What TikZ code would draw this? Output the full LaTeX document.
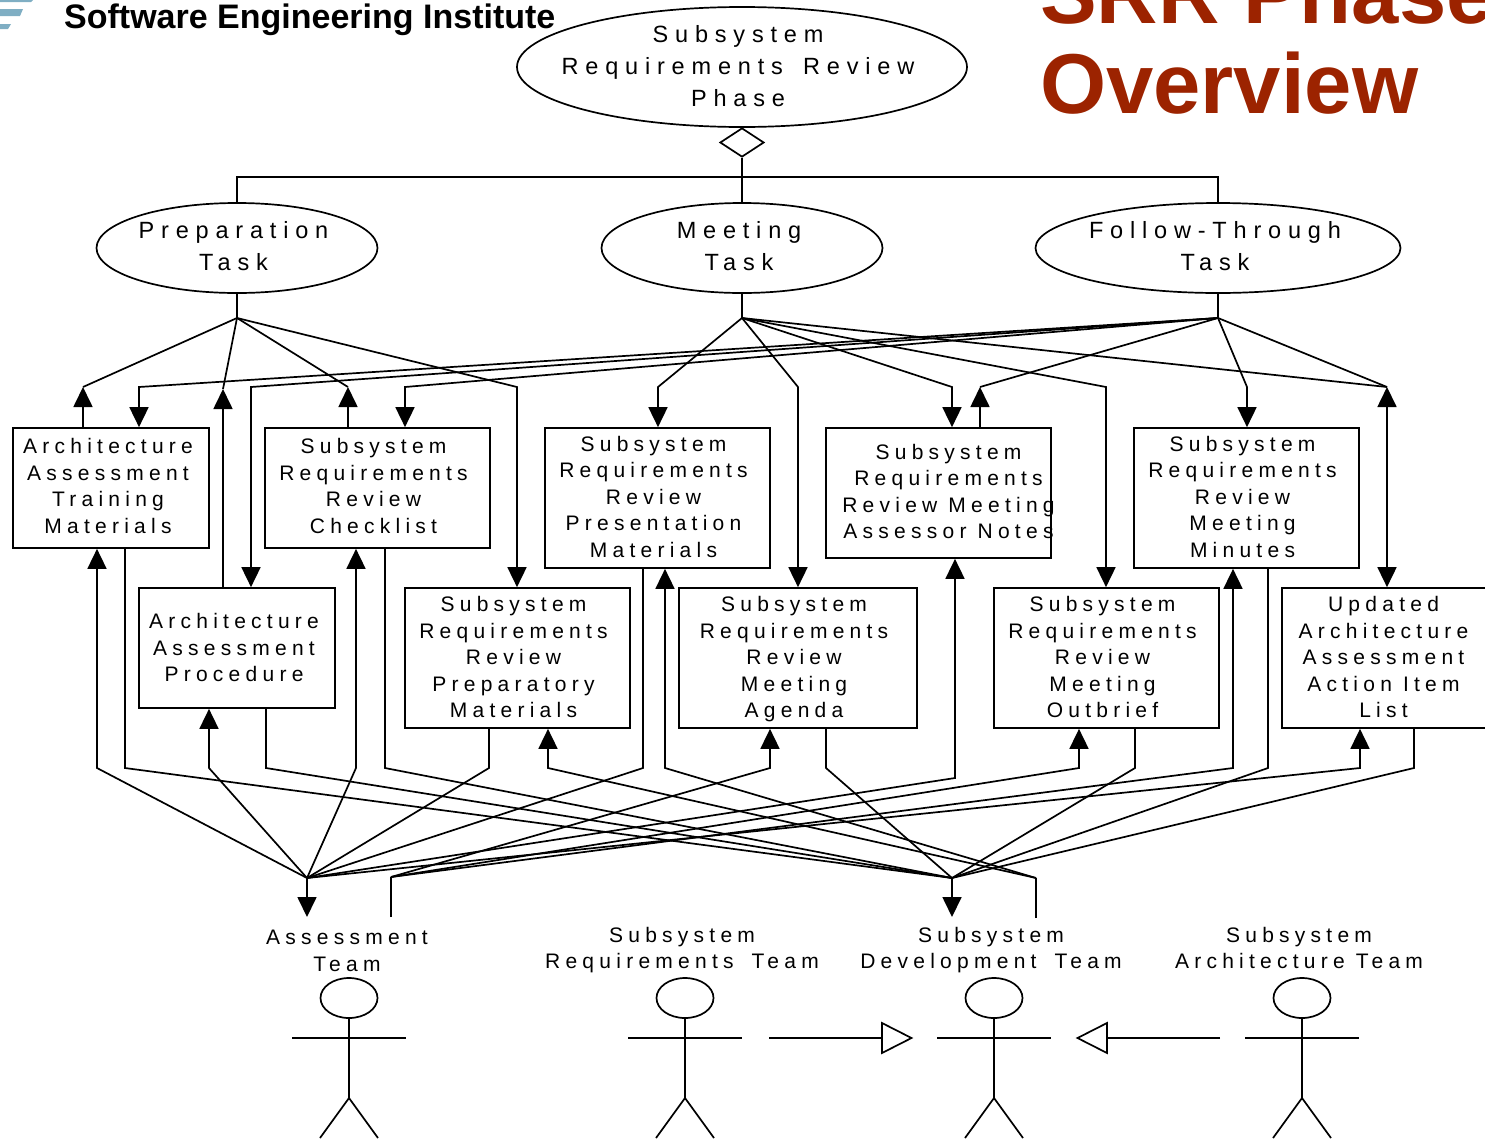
\documentclass[tikz,border=0pt]{standalone}
\usepackage{fontspec}
\usetikzlibrary{arrows.meta,shapes.geometric}
\setmainfont{Liberation Sans}
\newfontfamily\boxfont[LetterSpace=25]{Liberation Sans}
\newfontfamily\bigfont[LetterSpace=29]{Liberation Sans}
\definecolor{srrred}{HTML}{9C2300}
\definecolor{logoblue}{HTML}{7FAEC3}
% text lines placed with an offset (dx right, dy up) from the centre of their node
\newcommand\celltext[3]{\raisebox{\dimexpr #2pt-7.5pt\relax}[0pt][0pt]{\makebox[0pt]{\hspace*{#1pt}\hspace*{#1pt}\begin{tabular}{@{}c@{}}#3\end{tabular}}}}
\newcommand\wgap{\hspace{7pt}}
\tikzset{
  ln/.style={line width=1.7pt,line cap=butt},
  tip/.style={ln,-{Triangle[length=20pt,width=19pt]}},
  tiptwo/.style={ln,{Triangle[length=20pt,width=19pt]}-{Triangle[length=20pt,width=19pt]}},
  boxn/.style={draw,ln,rectangle,inner sep=0pt,fill=white,font=\fontsize{21}{26.5}\selectfont\boxfont},
  ovaln/.style={draw,ln,ellipse,inner sep=0pt,fill=white,font=\fontsize{23.5}{32}\selectfont\bigfont},
  teamlab/.style={inner sep=0pt,font=\fontsize{21}{26.5}\selectfont\boxfont},
  headn/.style={draw,ln,ellipse,minimum width=57pt,minimum height=40pt,inner sep=0pt},
  hollow/.style={draw,ln,fill=white}
}
\begin{document}
\begin{tikzpicture}[x=1pt,y=-1pt]
\path[use as bounding box] (0,0) rectangle (1485,1138);
\clip (0,0) rectangle (1485,1138);
% logo and title
\fill[logoblue] (0,0) -- (33,0) -- (31,2) -- (0,2) -- cycle;
\fill[logoblue] (0,9) -- (23,9) -- (20,16) -- (0,16) -- cycle;
\fill[logoblue] (0,24) -- (11,24) -- (8,29) -- (0,29) -- cycle;
\node[anchor=base west,inner sep=0pt,font=\fontsize{34}{34}\selectfont\bfseries] (sei) at (64,28) {Software Engineering Institute};
\node[anchor=base west,inner sep=0pt,text=srrred,font=\fontsize{85}{85}\selectfont\bfseries] (titleA) at (1040,23) {SRR Phase};
\node[anchor=base west,inner sep=0pt,text=srrred,font=\fontsize{85}{85}\selectfont\bfseries] (titleB) at (1040,113) {Overview};
% named junctions
\coordinate (JP) at (237,318);
\coordinate (JM) at (742,318);
\coordinate (JF) at (1218,318);
\coordinate (JA) at (307,878);
\coordinate (JAo) at (391,877);
\coordinate (JD) at (952,878);
\coordinate (JDo) at (1036,878);
% ovals
\node[ovaln,minimum width=450pt,minimum height=120pt] (phase) at (742,67) {\celltext{-4}{0}{Subsystem\\Requirements\wgap{} Review\\Phase}};
\node[ovaln,minimum width=281pt,minimum height=90pt] (ptask) at (237,248) {\celltext{-3.5}{1}{Preparation\\Task}};
\node[ovaln,minimum width=281pt,minimum height=90pt] (mtask) at (742,248) {\celltext{-3}{1}{Meeting\\Task}};
\node[ovaln,minimum width=365pt,minimum height=90pt] (ftask) at (1218,248) {\celltext{-3}{1}{Follow-Through\\Task}};
\node[draw,ln,diamond,minimum width=44pt,minimum height=29pt,inner sep=0pt] (agg) at (742,142.5) {};
% boxes
\node[boxn,minimum width=196pt,minimum height=120pt] (bTrain) at (111,488) {\celltext{-3}{2}{Architecture\\Assessment\\Training\\Materials}};
\node[boxn,minimum width=225pt,minimum height=120pt] (bCheck) at (377.5,488) {\celltext{-4}{2}{Subsystem\\Requirements\\Review\\Checklist}};
\node[boxn,minimum width=225pt,minimum height=140pt] (bPres) at (657.5,498) {\celltext{-4}{1.5}{Subsystem\\Requirements\\Review\\Presentation\\Materials}};
\node[boxn,minimum width=225pt,minimum height=130pt] (bNotes) at (938.5,493) {\celltext{10}{1.5}{Subsystem\\Requirements\\Review Meeting\\Assessor Notes}};
\node[boxn,minimum width=225pt,minimum height=140pt] (bMin) at (1246.5,498) {\celltext{-4}{1.5}{Subsystem\\Requirements\\Review\\Meeting\\Minutes}};
\node[boxn,minimum width=196pt,minimum height=120pt] (bProc) at (237,648) {\celltext{-3}{0.5}{Architecture\\Assessment\\Procedure}};
\node[boxn,minimum width=225pt,minimum height=140pt] (bPrep) at (517.5,658) {\celltext{-4}{1}{Subsystem\\Requirements\\Review\\Preparatory\\Materials}};
\node[boxn,minimum width=238pt,minimum height=140pt] (bAgen) at (798,658) {\celltext{-4}{1}{Subsystem\\Requirements\\Review\\Meeting\\Agenda}};
\node[boxn,minimum width=225pt,minimum height=140pt] (bOut) at (1106.5,658) {\celltext{-4}{1}{Subsystem\\Requirements\\Review\\Meeting\\Outbrief}};
\node[boxn,minimum width=208pt,minimum height=140pt] (bUpd) at (1386,658) {\celltext{-2.5}{1}{Updated\\Architecture\\Assessment\\Action Item\\List}};
% tree at the top
\draw[ln] (agg.south) -- (mtask.north);
\draw[ln] (ptask.north) -- (237,177) -- (1218,177) -- (ftask.north);
\draw[ln] (ptask.south) -- (JP);
\draw[ln] (mtask.south) -- (JM);
\draw[ln] (ftask.south) -- (JF);
% preparation task
\draw[ln] (JP) -- (83,387);
\draw[tip] (bTrain.north -| 83,0) -- (83,387);
\draw[ln] (JP) -- (223,389);
\draw[tip] (bProc.north -| 223,0) -- (223,389);
\draw[ln] (JP) -- (348,387);
\draw[tip] (bCheck.north -| 348,0) -- (348,387);
\draw[tip] (JP) -- (517,387) -- (bPrep.north -| 517,0);
% meeting task
\draw[tip] (JM) -- (658,387) -- (bPres.north -| 658,0);
\draw[tip] (JM) -- (798,387) -- (bAgen.north -| 798,0);
\draw[tip] (JM) -- (952,387) -- (bNotes.north -| 952,0);
\draw[tip] (JM) -- (1106,387) -- (bOut.north -| 1106,0);
\draw[ln] (JM) -- (1387,387);
% follow-through task
\draw[tip] (JF) -- (139,387) -- (bTrain.north -| 139,0);
\draw[tip] (JF) -- (251,387) -- (bProc.north -| 251,0);
\draw[tip] (JF) -- (405,387) -- (bCheck.north -| 405,0);
\draw[ln] (JF) -- (980,387);
\draw[tip] (bNotes.north -| 980,0) -- (980,387);
\draw[tip] (JF) -- (1247,387) -- (bMin.north -| 1247,0);
\draw[ln] (JF) -- (1387,387);
\draw[tiptwo] (1387,387) -- (bUpd.north -| 1387,0);
% assessment team side
\draw[tip] (JA) -- (97,768) -- (bTrain.south -| 97,0);
\draw[tip] (JA) -- (209,768) -- (bProc.south -| 209,0);
\draw[tip] (JA) -- (356,768) -- (bCheck.south -| 356,0);
\draw[ln] (bPrep.south -| 489,0) -- (489,768) -- (JA);
\draw[ln] (bPres.south -| 643,0) -- (643,768) -- (JA);
\draw[tip] (JA) -- (955,778) -- (bNotes.south -| 955,0);
\draw[tip] (JAo) -- (770,768) -- (bAgen.south -| 770,0);
\draw[tip] (JAo) -- (1079,768) -- (bOut.south -| 1079,0);
\draw[tip] (JAo) -- (1233,768) -- (bMin.south -| 1233,0);
\draw[tip] (JA) -- (1360,768) -- (bUpd.south -| 1360,0);
% development team side
\draw[ln] (bTrain.south -| 125,0) -- (125,768) -- (JD);
\draw[ln] (bProc.south -| 266,0) -- (266,768) -- (JD);
\draw[ln] (bCheck.south -| 385,0) -- (385,768) -- (JD);
\draw[ln] (bAgen.south -| 826,0) -- (826,768) -- (JD);
\draw[ln] (bOut.south -| 1135,0) -- (1135,768) -- (JD);
\draw[ln] (bMin.south -| 1268,0) -- (1268,768) -- (JD);
\draw[ln] (bUpd.south -| 1414,0) -- (1414,768) -- (JD);
\draw[tip] (JDo) -- (548,768) -- (bPrep.south -| 548,0);
\draw[tip] (JDo) -- (665,768) -- (bPres.south -| 665,0);
% team labels
\node[teamlab] (lAsm) at (349,950.5) {\celltext{-2}{0}{Assessment\\Team}};
\node[teamlab] (lReq) at (682,948) {\celltext{0}{0}{Subsystem\\Requirements\wgap{} Team}};
\node[teamlab] (lDev) at (991,948) {\celltext{0}{0}{Subsystem\\Development\wgap{} Team}};
\node[teamlab] (lArc) at (1299,948) {\celltext{0}{0}{Subsystem\\Architecture Team}};
% connectors to the team labels
\coordinate (tA) at (307,917);
\coordinate (tAo) at (391,917);
\coordinate (tD) at (952,917);
\coordinate (tDo) at (1036,918);
\draw[tip] (JA) -- (tA);
\draw[ln] (tAo) -- (JAo);
\draw[tip] (JD) -- (tD);
\draw[ln] (tDo) -- (JDo);
% stick figures
\foreach \nm/\cx in {hAsm/349,hReq/685,hDev/994,hArc/1302}{
  \node[headn] (\nm) at (\cx,998) {};
  \draw[ln] (\nm.south) -- (\cx,1098);
  \draw[ln] (\cx-57,1038) -- (\cx+57,1038);
  \draw[ln] (\cx-29,1138) -- (\cx,1098) -- (\cx+29,1138);
}
% generalisation arrows
\coordinate (gA) at (769,1038);
\coordinate (gB) at (882,1038);
\coordinate (gC) at (1107,1038);
\coordinate (gD) at (1220,1038);
\draw[ln] (gA) -- (gB);
\draw[ln] (gD) -- (gC);
\draw[hollow] (882,1023) -- (911.5,1038) -- (882,1053) -- cycle;
\draw[hollow] (1107,1023) -- (1077.5,1038) -- (1107,1053) -- cycle;
\end{tikzpicture}
\end{document}
